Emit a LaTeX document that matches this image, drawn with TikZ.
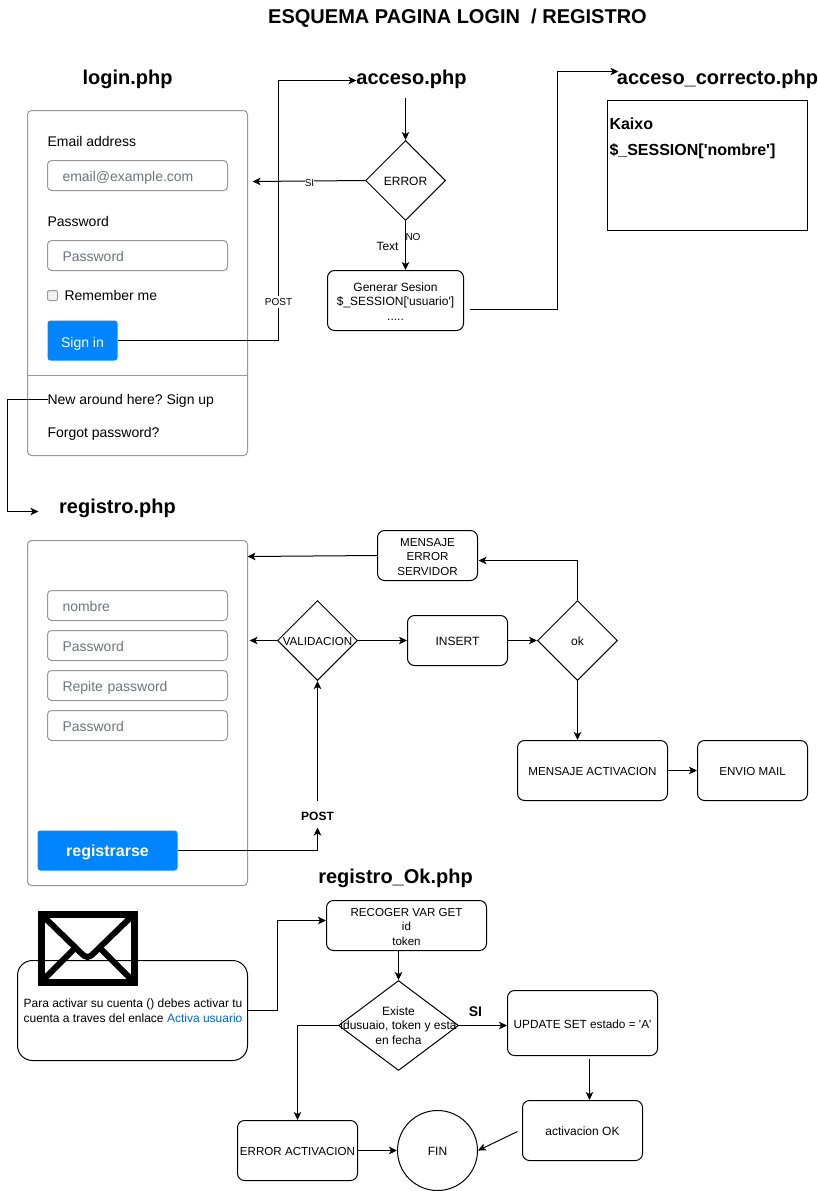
\documentclass[tikz,border=0pt]{standalone}
\usepackage{fontspec}
\setmainfont{Liberation Sans}
\usepackage{xcolor}
\usepackage{tikz}
\usetikzlibrary{arrows.meta,shapes.geometric}
\definecolor{cardgray}{HTML}{999999}
\definecolor{holdgray}{HTML}{6C757D}
\definecolor{btnblue}{HTML}{0085FC}
\definecolor{linkblue}{HTML}{0066CC}
\newcommand{\fs}[1]{\fontsize{#1}{14.4}\selectfont}
\newcommand{\qt}{\textquotesingle}
\tikzset{
	every node/.style={inner sep=0pt,align=center,font=\fs{12},text height=10.6pt,text depth=0pt},
	arr/.style={-{Stealth[length=8pt,width=7.5pt,inset=2pt]}},
	card/.style={draw=cardgray,rounded corners=4pt,minimum width=220pt,minimum height=345pt},
	field/.style={draw=cardgray,rounded corners=4pt,minimum width=180pt,minimum height=30pt,text width=150pt,align=left,text=holdgray,text height=12pt,font=\fs{14}},
	formtxt/.style={anchor=base west,font=\fs{14}},
	button/.style={fill=btnblue,rounded corners=3pt,text=white},
	stepbox/.style={draw,rounded corners=7pt},
	capsbox/.style={stepbox,font=\fs{11.6}},
	twolines/.style={text height=25pt},
	threelines/.style={text height=39.4pt},
	decision/.style={draw,diamond,aspect=1,minimum width=80pt,minimum height=80pt},
	filetitle/.style={font=\bfseries\fs{20},text height=14pt},
	small/.style={font=\fs{10},text height=7pt},
	smallfill/.style={small,fill=white,inner ysep=2.5pt}
}
\begin{document}
\frenchspacing
\begin{tikzpicture}[x=1pt,y=-1pt,line width=1pt]
	\useasboundingbox (-0.5,-0.5) rectangle (817.5,1190.5);
	\node[filetitle] (maintitle) at (457,16) {ESQUEMA PAGINA LOGIN~ / REGISTRO};
	% login
	\node[filetitle] (loginphp) at (127,77) {login.php};
	\node[card] (logincard) at (137,282.5) {};
	\draw[cardgray] (27,375) -- (247,375);
	\node[formtxt] (emaillbl) at (46.5,146) {Email address};
	\node[field] (emailbox) at (137,175) {email@example.com};
	\node[formtxt] (passlbl) at (46.5,226) {Password};
	\node[field] (passbox) at (137,255) {Password};
	\node[draw=cardgray,fill=black!5,rounded corners=2pt,minimum size=10pt,text height=0pt] (check) at (52,295) {};
	\node[formtxt] (rememberlbl) at (63.5,300) {Remember me};
	\node[button,minimum width=70pt,minimum height=40pt,font=\fs{14},text height=13pt] (signin) at (82,340) {Sign in};
	\node[formtxt] (newlbl) at (46.5,404) {New around here? Sign up};
	\node[formtxt] (forgotlbl) at (46.5,437) {Forgot password?};
	% acceso
	\node[filetitle] (accesophp) at (411,77) {acceso.php};
	\node[decision] (error) at (405,180) {};
	\node (errortxt) at (error) {ERROR};
	\node[stepbox,threelines,minimum width=136pt,minimum height=60pt] (sesion) at (395,300) {Generar Sesion\\\$\_SESSION[\qt usuario\qt]\\.....};
	\node[filetitle] (correctophp) at (717,77) {acceso\_correcto.php};
	\node[draw,minimum width=200pt,minimum height=130pt] (kaixobox) at (707,165) {};
	\node[anchor=base west,font=\bfseries\fs{16}] (kaixo) at (608.5,129) {Kaixo};
	\node[anchor=base west,font=\bfseries\fs{16}] (sessvar) at (608.5,155) {\$\_SESSION[\qt nombre\qt]};
	\coordinate (accesoin) at (356,80);
	\coordinate (postup) at (278,80);
	\coordinate (accesoout) at (405,97);
	\coordinate (loginback) at (252,181);
	\coordinate (sesionout) at (469,309);
	\coordinate (correctoup) at (557,71);
	\coordinate (correctoin) at (618,71);
	\draw[arr] (signin.east) -| (postup) -- (accesoin);
	\draw[arr] (accesoout) -- (error.north);
	\draw[arr] (error.west) -- (loginback);
	\draw[arr] (error.south) -- (error.south |- sesion.north);
	\draw[arr] (sesionout) -| (correctoup) -- (correctoin);
	\node[smallfill] (postlbl) at (278,301) {POST};
	\node[smallfill] (silbl) at (309,182) {SI};
	\node[small] (nolbl) at (412.5,236) {NO};
	\node (textlbl) at (387,245) {Text};
	% registro
	\node[filetitle] (registrophp) at (117,506) {registro.php};
	\node[card] (regcard) at (137,712.5) {};
	\node[field] (nombrebox) at (137,605) {nombre};
	\node[field] (regpass) at (137,645) {Password};
	\node[field] (repitebox) at (137,685) {Repite password};
	\node[field] (regpassb) at (137,725) {Password};
	\node[button,minimum width=140pt,minimum height=40pt,font=\bfseries\fs{16},text height=12.2pt] (registrarse) at (107,850) {registrarse};
	\node[decision] (validacion) at (317,640) {};
	\node[font=\fs{11.6}] (validaciontxt) at (validacion) {VALIDACION};
	\node[stepbox,minimum width=100pt,minimum height=50pt] (insert) at (457,640) {INSERT};
	\node[decision] (okdec) at (577,640) {};
	\node (oktxt) at (okdec) {ok};
	\node[capsbox,threelines,minimum width=100pt,minimum height=50pt] (msgerror) at (427,555) {MENSAJE\\ERROR\\SERVIDOR};
	\node[capsbox,minimum width=150pt,minimum height=60pt] (msgact) at (592,770) {MENSAJE ACTIVACION};
	\node[capsbox,minimum width=110pt,minimum height=60pt] (enviomail) at (752,770) {ENVIO MAIL};
	\node[font=\bfseries\fs{12}] (regpost) at (317,815) {POST};
	\coordinate (newleft) at (7,399);
	\coordinate (newdown) at (7,511);
	\coordinate (regin) at (38,511);
	\coordinate (newout) at (47,399);
	\coordinate (postin) at (317,827);
	\coordinate (postout) at (317,800);
	\coordinate (valback) at (249,640);
	\coordinate (errorin) at (478,560);
	\coordinate (regback) at (247,556);
	\draw[arr] (newout) -- (newleft) -- (newdown) -- (regin);
	\draw[arr] (registrarse.east) -| (postin);
	\draw[arr] (postout) -- (validacion.south);
	\draw[arr] (validacion.west) -- (valback);
	\draw[arr] (validacion.east) -- (insert.west);
	\draw[arr] (insert.east) -- (okdec.west);
	\draw[arr] (okdec.north) |- (errorin);
	\draw[arr] (msgerror.west) -- (regback);
	\draw[arr] (okdec.south) -- (okdec.south |- msgact.north);
	\draw[arr] (msgact.east) -- (enviomail.west);
	% registro_Ok
	\node[filetitle] (registrook) at (395,876) {registro\_Ok.php};
	\draw[line width=7pt] (40.5,913.5) rectangle (133.5,981.5);
	\draw[line width=6pt,line join=round] (41,914) -- (80,952) .. controls (86,958) and (88,958) .. (94,952) -- (133,914);
	\draw[line width=6pt] (42,980) -- (74,948);
	\draw[line width=6pt] (132,980) -- (100,948);
	\node[stepbox,rounded corners=15pt,minimum width=230pt,minimum height=100pt] (mailcard) at (132,1010) {};
	\node[twolines] (mailtxt) at (132.5,1009) {Para activar su cuenta () debes activar tu\\cuenta a traves del enlace \textcolor{linkblue}{Activa usuario}};
	\node[capsbox,threelines,minimum width=160pt,minimum height=50pt] (recoger) at (406,925) {RECOGER VAR GET\\id\\token};
	\node[draw,diamond,aspect=1.33,minimum width=120pt,minimum height=90pt] (existe) at (398,1025) {};
	\node[threelines] (existetxt) at (398,1024) {Existe\\idusuaio, token y esta\\en fecha};
	\node[stepbox,font=\fs{11.8},minimum width=150pt,minimum height=65pt] (update) at (582,1022.5) {UPDATE SET estado = \qt A\qt};
	\node[stepbox,minimum width=120pt,minimum height=60pt] (activok) at (582,1130) {activacion OK};
	\node[capsbox,minimum width=120pt,minimum height=60pt] (erroract) at (297,1150) {ERROR ACTIVACION};
	\node[draw,circle,minimum size=80pt] (fin) at (437,1150) {FIN};
	\node[font=\bfseries\fs{14},text height=10pt] (sibold) at (475,1011) {SI};
	\coordinate (updout) at (589,1058);
	\coordinate (okout) at (517,1131);
	\coordinate (mailup) at (277,920);
	\coordinate (existeleft) at (297,1025);
	\draw[arr] (mailcard.east) -| (mailup) -- (mailup -| recoger.west);
	\draw[arr] (existe.north |- recoger.south) -- (existe.north);
	\draw[arr] (existe.east) -- (existe.east -| update.west);
	\draw[arr] (existe.west) -- (existeleft) -- (erroract.north);
	\draw[arr] (updout) -- (updout |- activok.north);
	\draw[arr] (okout) -- (fin.east);
	\draw[arr] (erroract.east) -- (fin.west);
\end{tikzpicture}
\end{document}
